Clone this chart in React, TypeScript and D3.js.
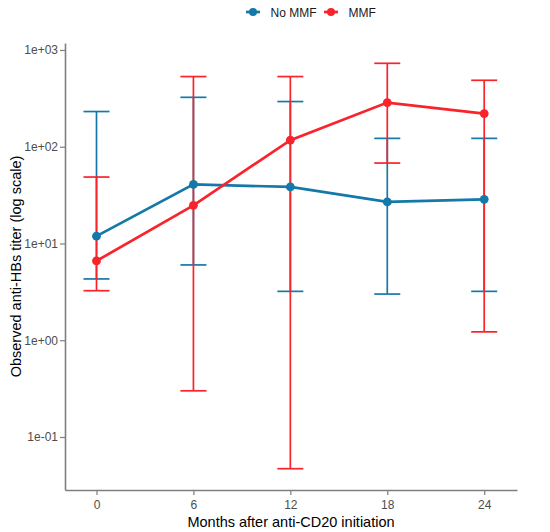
import React, { useEffect, useRef } from 'react';
import * as d3 from 'd3';

// months after anti-CD20 initiation
const months = [0, 6, 12, 18, 24];

// No MMF group: geometric mean titer and error bar limits
const noMmfMean = [11.9, 40.8, 38.4, 26.9, 28.6];
const noMmfLower = [4.3, 6.0, 3.2, 3.0, 3.2];
const noMmfUpper = [231, 324, 293, 122, 122];

// MMF group
const mmfMean = [6.6, 24.8, 117, 286, 220];
const mmfLower = [3.25, 0.3, 0.047, 67.8, 1.22];
const mmfUpper = [48.6, 531, 531, 728, 486];

const xTicks = [0, 6, 12, 18, 24];
const yTicks = [0.1, 1, 10, 100, 1000];
const groupNames = ['No MMF', 'MMF'];
const colors = ['#1479A9', '#F8232B'];

const W = 550;
const H = 532;
const FONT = '"Liberation Sans", Arial, Helvetica, sans-serif';

const fmtSci = (v: number) => {
  const e = Math.round(Math.log10(v));
  const sign = e < 0 ? '-' : '+';
  return `1e${sign}${String(Math.abs(e)).padStart(2, '0')}`;
};

const App: React.FC = () => {
  const svgRef = useRef<SVGSVGElement>(null);

  useEffect(() => {
    if (!svgRef.current) return;
    const svg = d3.select(svgRef.current);
    svg.selectAll('*').remove();

    const x = d3.scaleLinear().domain([-1.95, 26.03]).range([65, 517]);
    const y = d3.scaleLog().domain([Math.pow(10, -1.548), Math.pow(10, 3.072)]).range([490, 43]);

    const groups = [
      { name: groupNames[0], color: colors[0], mean: noMmfMean, lo: noMmfLower, hi: noMmfUpper },
      { name: groupNames[1], color: colors[1], mean: mmfMean, lo: mmfLower, hi: mmfUpper },
    ];

    // axes
    const yAxis = svg.append('g')
      .attr('transform', `translate(${x.range()[0]},0)`)
      .call(d3.axisLeft(y).tickValues(yTicks).tickFormat((d) => fmtSci(d as number)).tickSize(5).tickSizeOuter(0).tickPadding(2));
    const xAxis = svg.append('g')
      .attr('transform', `translate(0,${y.range()[0]})`)
      .call(d3.axisBottom(x).tickValues(xTicks).tickFormat(d3.format('d')).tickSize(5).tickSizeOuter(0).tickPadding(5));

    [xAxis, yAxis].forEach((a) => {
      a.select('.domain').attr('stroke', '#7f7f7f').attr('stroke-width', 1.6);
      a.selectAll('.tick line').attr('stroke', '#7f7f7f').attr('stroke-width', 1.2);
      a.selectAll('.tick text')
        .attr('fill', '#4d4d4d')
        .style('font-family', FONT)
        .style('font-size', '12px');
    });

    const capHalf = 13;

    // error bars
    groups.forEach((g) => {
      const eb = svg.append('g').attr('stroke', g.color).attr('stroke-width', 1.7).attr('fill', 'none');
      months.forEach((m, i) => {
        const cx = x(m);
        eb.append('line').attr('x1', cx).attr('x2', cx).attr('y1', y(g.lo[i])).attr('y2', y(g.hi[i]));
        eb.append('line').attr('x1', cx - capHalf).attr('x2', cx + capHalf).attr('y1', y(g.lo[i])).attr('y2', y(g.lo[i]));
        eb.append('line').attr('x1', cx - capHalf).attr('x2', cx + capHalf).attr('y1', y(g.hi[i])).attr('y2', y(g.hi[i]));
      });
    });

    // lines
    const line = d3.line<number>()
      .x((_, i) => x(months[i]))
      .y((d) => y(d));
    groups.forEach((g) => {
      svg.append('path')
        .datum(g.mean)
        .attr('d', line)
        .attr('fill', 'none')
        .attr('stroke', g.color)
        .attr('stroke-width', 2.7);
    });

    // points
    groups.forEach((g) => {
      svg.append('g')
        .selectAll('circle')
        .data(g.mean)
        .enter()
        .append('circle')
        .attr('cx', (_, i) => x(months[i]))
        .attr('cy', (d) => y(d))
        .attr('r', 4.4)
        .attr('fill', g.color);
    });

    // legend
    const legendX = [253, 331];
    groups.forEach((g, i) => {
      const lg = svg.append('g').attr('transform', `translate(${legendX[i]},12)`);
      lg.append('line').attr('x1', -7).attr('x2', 7).attr('stroke', g.color).attr('stroke-width', 2.7);
      lg.append('circle').attr('r', 4).attr('fill', g.color);
      lg.append('text')
        .attr('x', 17.5)
        .attr('y', 4.5)
        .attr('fill', '#1a1a1a')
        .style('font-family', FONT)
        .style('font-size', '12px')
        .text(g.name);
    });

    // axis titles
    svg.append('text')
      .attr('x', (x.range()[0] + x.range()[1]) / 2)
      .attr('y', 527)
      .attr('text-anchor', 'middle')
      .attr('fill', '#000')
      .style('font-family', FONT)
      .style('font-size', '14.5px')
      .text('Months after anti-CD20 initiation');

    svg.append('text')
      .attr('transform', `translate(21,${(y.range()[0] + y.range()[1]) / 2}) rotate(-90)`)
      .attr('text-anchor', 'middle')
      .attr('fill', '#000')
      .style('font-family', FONT)
      .style('font-size', '14.5px')
      .text('Observed anti-HBs titer (log scale)');
  }, []);

  return (
    <svg
      ref={svgRef}
      width={W}
      height={H}
      style={{ position: 'absolute', left: 0, top: 0, background: '#fff' }}
    />
  );
};

export default App;
